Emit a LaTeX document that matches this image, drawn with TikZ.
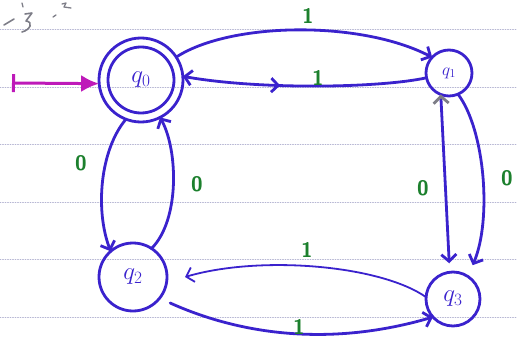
\documentclass[tikz,border=0pt]{standalone}
\usetikzlibrary{arrows.meta,decorations.markings}
\definecolor{pen}{RGB}{58,34,205}
\definecolor{grn}{RGB}{28,128,45}
\definecolor{mag}{RGB}{190,25,185}
\definecolor{rulec}{RGB}{180,180,210}
\definecolor{pencil}{RGB}{125,125,135}
\begin{document}
\begin{tikzpicture}[x=1pt,y=-1pt,line cap=round,line join=round,
  state/.style={circle,draw=pen,line width=2.8pt,text=pen,inner sep=0pt,outer sep=0pt},
  edge/.style={draw=pen,line width=2.8pt,-{Straight Barb[length=7pt,width=15pt]}},
  lbl/.style={text=grn,font=\sffamily\bfseries\fontsize{21}{21}\selectfont},
  ruled/.style={draw=rulec,line width=0.8pt,dash pattern=on 1pt off 1.5pt}]
\useasboundingbox (0,0) rectangle (517,345);
\clip (0,0) rectangle (517,345);
% notebook ruling
\foreach \yy in {29,87,144,202,259,317} \draw[ruled] (0,\yy) -- (517,\yy);
% pencil scribbles
\draw[pencil,line width=1.6pt] (4,25) -- (14,19);
\draw[pencil,line width=1.6pt] (25,14) -- (32,13) -- (26,21) .. controls (34,22) and (30,30) .. (22,32);
\draw[pencil,line width=1.3pt] (22,3) -- (23,7);
\draw[pencil,line width=1.3pt] (53,17) -- (56,15);
\draw[pencil,line width=1.3pt] (62,4) -- (66,3) -- (64,7) -- (71,8);
% states
\node[state,minimum size=84pt,font=\fontsize{25}{25}\selectfont] (q0) at (141,80) {$q_0$};
\draw[pen,line width=2.8pt] (q0.center) circle (33pt);
\node[state,minimum size=46pt,font=\fontsize{17}{17}\selectfont] (q1) at (449,73) {$q_1$};
\node[state,minimum size=68pt,font=\fontsize{25}{25}\selectfont] (q2) at (133,277) {$q_2$};
\node[state,minimum size=54pt,font=\fontsize{23}{23}\selectfont] (q3) at (453,299) {$q_3$};
% initial arrow
\coordinate (start) at (12,83);
\draw[mag,line width=3pt,{Bar[width=18pt]}-{Latex[length=18pt,width=17pt]}] (start) -- (q0.185);
% transitions
\draw[edge] (q0.33) .. controls (230,22) and (360,20) .. (q1.137);
\draw[edge,postaction={decorate},decoration={markings,mark=at position 0.6 with {\arrowreversed{Straight Barb[length=7pt,width=14pt]}}}]
  (q1.192) .. controls (380,88) and (260,90) .. (q0.5);
\draw[edge] (q0.249) .. controls (100,150) and (95,210) .. (q2.131);
\draw[edge] (q2.57) .. controls (180,220) and (178,150) .. (q0.297);
\draw[draw=pen,line width=2.8pt,{Straight Barb[length=7pt,width=15pt,color=pencil]}-{Straight Barb[length=7pt,width=15pt]}]
  (q1.249) -- ([yshift=9pt]q3.98);
\draw[edge] (q1.293) .. controls (485,130) and (492,220) .. ([shift={(7pt,10pt)}]q3.62);
\draw[edge,line width=1.8pt] (q3.176) .. controls (380,265) and (260,255) .. ([xshift=18pt]q2.east);
\draw[edge] ([shift={(9pt,-7pt)}]q2.326) .. controls (230,330) and (320,350) .. (q3.222);
% labels
\node[lbl] (l01) at (308,16) {1};
\node[lbl] (l10) at (318,78) {1};
\node[lbl] (l02) at (81,163) {0};
\node[lbl] (l20) at (197,184) {0};
\node[lbl] (l13a) at (423,188) {0};
\node[lbl] (l13b) at (507,178) {0};
\node[lbl] (l32) at (307,250) {1};
\node[lbl] (l23) at (299,327) {1};
\end{tikzpicture}
\end{document}
